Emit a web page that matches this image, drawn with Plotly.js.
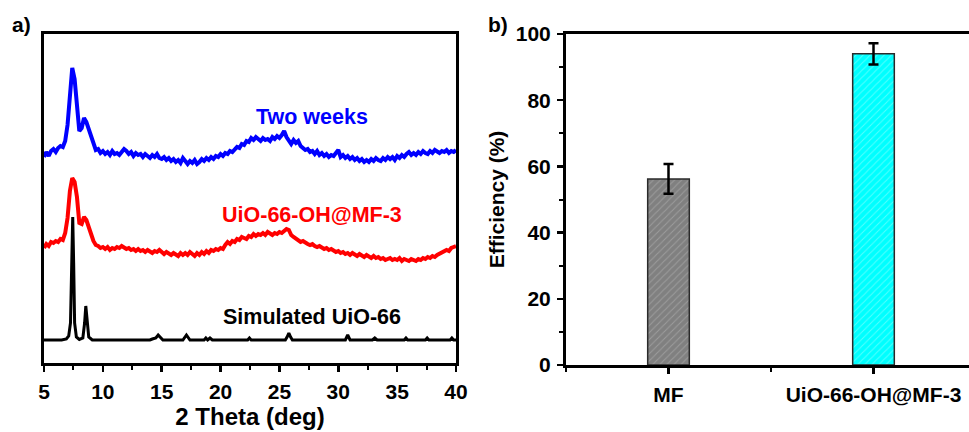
<!DOCTYPE html>
<html>
<head>
<meta charset="utf-8">
<script src="https://cdn.plot.ly/plotly-3.0.1.min.js"></script>
<style>
  html, body { margin: 0; padding: 0; overflow: hidden; background: #fff; }
  #chart { width: 980px; height: 432px; }
</style>
</head>
<body>
<div id="chart"></div>
<script>
// ---- Panel a: XRD patterns (intensity in arbitrary units, offset stacked) ----
// Blue / red curves sampled every 0.2 deg from 5 to 40 deg
const theta0 = 5;
const thetaStep = 0.2;
const twoWeeks = [
  206,211,207,212,214,211,215,217,216,222,
  238,272,295,284,258,232,235,245,241,234,
  226,218,213,214,210,212,209,211,208,212,
  209,210,208,211,214,212,209,211,207,210,
  208,209,206,209,207,205,208,206,209,205,
  204,206,203,205,202,204,201,203,200,205,
  202,199,202,200,203,199,201,204,202,205,
  203,206,204,207,206,209,207,210,209,212,
  211,214,216,215,219,218,222,221,225,223,
  226,224,222,225,223,224,222,226,224,227,
  225,228,232,226,223,219,223,220,222,217,
  215,213,214,211,212,209,212,208,210,207,
  209,206,208,207,210,213,206,208,205,207,
  204,206,203,205,202,204,201,203,201,204,
  202,205,203,202,205,203,206,204,206,203,
  207,205,208,206,209,211,208,210,208,211,
  209,212,210,209,212,210,213,211,210,212,
  211,213,210,212,211,213
];
const uioMF3 = [
  115,119,117,121,120,122,121,124,123,130,
  145,172,185,181,166,140,139,146,143,137,
  129,122,118,117,115,116,114,116,113,115,
  114,116,115,117,116,114,115,113,114,112,
  114,112,113,111,113,112,110,112,111,113,
  111,109,111,110,108,110,109,107,110,108,
  110,108,111,109,107,110,108,111,109,112,
  110,113,112,114,113,115,114,118,121,119,
  122,121,124,123,126,125,124,127,126,129,
  127,129,128,130,128,131,129,128,130,129,
  131,130,132,134,133,128,126,124,122,121,
  122,120,119,118,119,117,116,117,115,114,
  115,113,114,112,111,112,110,111,109,110,
  108,110,108,107,109,107,106,108,106,105,
  107,105,106,104,105,103,104,105,103,104,
  103,105,102,104,103,102,104,103,102,104,
  103,105,104,106,105,107,106,108,109,110,
  111,113,112,115,116,117
];
// Simulated pattern (sparse, peak-resolved points)
const simTheta = [5.0,6.5,6.9,7.1,7.25,7.35,7.44,7.52,7.6,7.75,8.0,8.3,8.45,8.55,8.65,8.8,9.1,
  14.0,14.2,14.5,14.7,14.9,15.1,16.8,17.1,17.4,18.6,18.75,18.9,19.1,19.3,22.3,22.45,22.6,
  25.5,25.65,25.8,25.95,26.1,30.6,30.8,31.0,32.9,33.1,33.3,35.6,35.75,35.9,37.4,37.55,37.7,
  39.5,39.65,39.8,40.0];
const simInt = [23,23,24,27,40,100,146,100,40,26,23.5,25,40,57,45,26,23,
  23,24,25,28,25,23,23,28,23,23,25,23,25,23,23,25,23,
  23,26,30,26,23,23,28,23,23,25,23,23,25,23,23,25,23,
  23,25,23,23];

const seriesNames = ['Two weeks', 'UiO-66-OH@MF-3', 'Simulated UiO-66'];
const seriesColors = ['#0000ff', '#ff0000', '#000000'];
const labelTheta = [27.8, 27.8, 27.8];
const labelInt = [246, 148, 46];

// ---- Panel b: efficiency bars ----
const materials = ['MF', 'UiO-66-OH@MF-3'];
const efficiency = [56.2, 94.0];
const efficiencyErr = [4.5, 3.2];
const barColors = ['#808080', '#00ffff'];
const hatchColors = ['#b8b8b8', '#a6ffff'];

const W = 980, H = 432;
const font = 'Liberation Sans, Arial, Helvetica, sans-serif';

const traces = [
  { type: 'scatter', mode: 'lines', x0: theta0, dx: thetaStep, y: twoWeeks,
    line: { color: seriesColors[0], width: 4 }, xaxis: 'x', yaxis: 'y', showlegend: false },
  { type: 'scatter', mode: 'lines', x0: theta0, dx: thetaStep, y: uioMF3,
    line: { color: seriesColors[1], width: 4 }, xaxis: 'x', yaxis: 'y', showlegend: false },
  { type: 'scatter', mode: 'lines', x: simTheta, y: simInt,
    line: { color: seriesColors[2], width: 3 }, xaxis: 'x', yaxis: 'y', showlegend: false }
];
materials.forEach((m, i) => {
  traces.push({
    type: 'bar', name: m, x: [i], y: [efficiency[i]], width: 0.203,
    marker: { color: barColors[i], line: { color: '#2a2a2a', width: 1.5 },
      pattern: { shape: '/', fgcolor: hatchColors[i], size: 5, solidity: 0.2, fillmode: 'overlay' } },
    error_y: { type: 'data', array: [efficiencyErr[i]], visible: true, color: '#000', thickness: 2.5, width: 5 },
    xaxis: 'x2', yaxis: 'y2', showlegend: false
  });
});

const axisCommon = {
  showgrid: false, zeroline: false, linecolor: '#000', linewidth: 3,
  mirror: true, showline: true, tickcolor: '#000',
  tickfont: { family: font, size: 21, color: '#000', weight: 'bold' }
};

const annotations = seriesNames.map((n, i) => ({
  text: '<b>' + n + '</b>', x: labelTheta[i], y: labelInt[i], xref: 'x', yref: 'y',
  xanchor: 'center', yanchor: 'middle',
  showarrow: false, font: { family: font, size: 21.5, color: seriesColors[i] }
}));
annotations.push({ text: '<b>a)</b>', x: 21 / W, y: 1 - 25 / H, xref: 'paper', yref: 'paper',
  xanchor: 'center', yanchor: 'middle',
  showarrow: false, font: { family: font, size: 21, color: '#000' } });
annotations.push({ text: '<b>b)</b>', x: 498 / W, y: 1 - 25 / H, xref: 'paper', yref: 'paper',
  xanchor: 'center', yanchor: 'middle',
  showarrow: false, font: { family: font, size: 21, color: '#000' } });

const layout = {
  width: W, height: H,
  margin: { l: 0, r: 0, t: 0, b: 0 },
  paper_bgcolor: '#fff', plot_bgcolor: '#fff',
  font: { family: font, color: '#000' },
  barmode: 'overlay',
  xaxis: Object.assign({}, axisCommon, {
    domain: [44 / W, 456 / W], range: [5, 40], anchor: 'y',
    tickmode: 'linear', tick0: 5, dtick: 5, ticks: 'outside', ticklen: 6, tickwidth: 2.5,
    ticklabelstandoff: 2,
    minor: { ticks: 'outside', dtick: 2.5, tick0: 5, ticklen: 4, tickwidth: 2, tickcolor: '#000' },
    title: { text: '<b>2 Theta (deg)</b>', font: { family: font, size: 24, color: '#000' }, standoff: 6 }
  }),
  yaxis: Object.assign({}, axisCommon, {
    domain: [69 / H, 398 / H], range: [0, 329], anchor: 'x',
    ticks: '', showticklabels: false
  }),
  xaxis2: Object.assign({}, axisCommon, {
    domain: [566 / W, 976 / W], range: [-0.5, 1.5], anchor: 'y2',
    tickmode: 'array', tickvals: [0, 1], ticktext: materials,
    ticks: 'outside', ticklen: 6, tickwidth: 2.5, ticklabelstandoff: 3,
    minor: { tickmode: 'linear', tick0: -0.5, dtick: 0.5, ticks: 'outside', ticklen: 4, tickwidth: 2, tickcolor: '#000' }
  }),
  yaxis2: Object.assign({}, axisCommon, {
    domain: [67 / H, 398 / H], range: [0, 100], anchor: 'x2',
    tickmode: 'linear', tick0: 0, dtick: 20, ticks: 'outside', ticklen: 6, tickwidth: 2.5,
    ticklabelstandoff: 2,
    minor: { ticks: 'outside', dtick: 10, tick0: 0, ticklen: 4, tickwidth: 2, tickcolor: '#000' },
    title: { text: '<b>Efficiency (%)</b>', font: { family: font, size: 21, color: '#000' }, standoff: 6 }
  }),
  annotations: annotations
};

Plotly.newPlot('chart', traces, layout, { displayModeBar: false, staticPlot: true });
</script>
</body>
</html>
